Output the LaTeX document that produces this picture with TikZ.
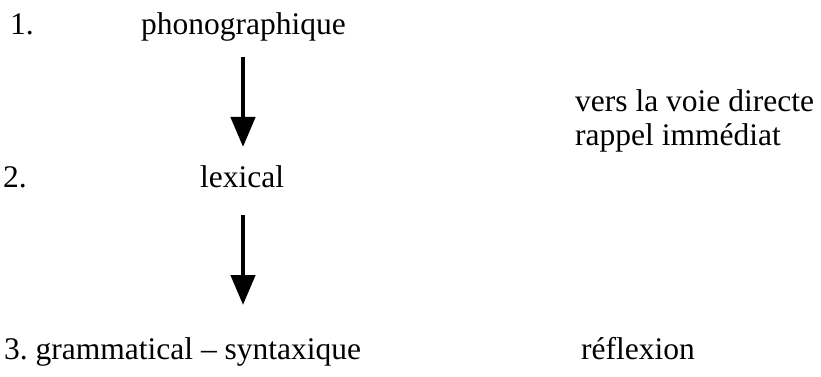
\documentclass[tikz,border=0pt]{standalone}
\usepackage{fontspec}
\setmainfont{Liberation Serif}
\usetikzlibrary{arrows.meta}
\frenchspacing
\begin{document}
\begin{tikzpicture}[x=1pt,y=-1pt,
  lbl/.style={anchor=base west,inner sep=0pt,font=\fontsize{31.5}{34}\selectfont},
  flow/.style={line width=4.5pt,-{Triangle[width=24pt,length=30pt]}}]
\useasboundingbox (0,0) rectangle (821,377);
\node[lbl] (n1) at (10,35) {1.};
\node[lbl] (phono) at (141,35) {phonographique};
\node[lbl] (n2) at (3,187) {2.};
\node[lbl] (lex) at (200,187) {lexical};
\node[lbl] (gram) at (4,359) {3. grammatical – syntaxique};
\node[lbl] (vers) at (575,112) {vers la voie directe};
\node[lbl] (rappel) at (575,146) {rappel immédiat};
\node[lbl] (refl) at (581,359) {réflexion};
\coordinate (a1s) at (243,57);
\coordinate (a1e) at (243,147);
\coordinate (a2s) at (243,215);
\coordinate (a2e) at (243,305);
\draw[flow] (a1s) -- (a1e);
\draw[flow] (a2s) -- (a2e);
\end{tikzpicture}
\end{document}
